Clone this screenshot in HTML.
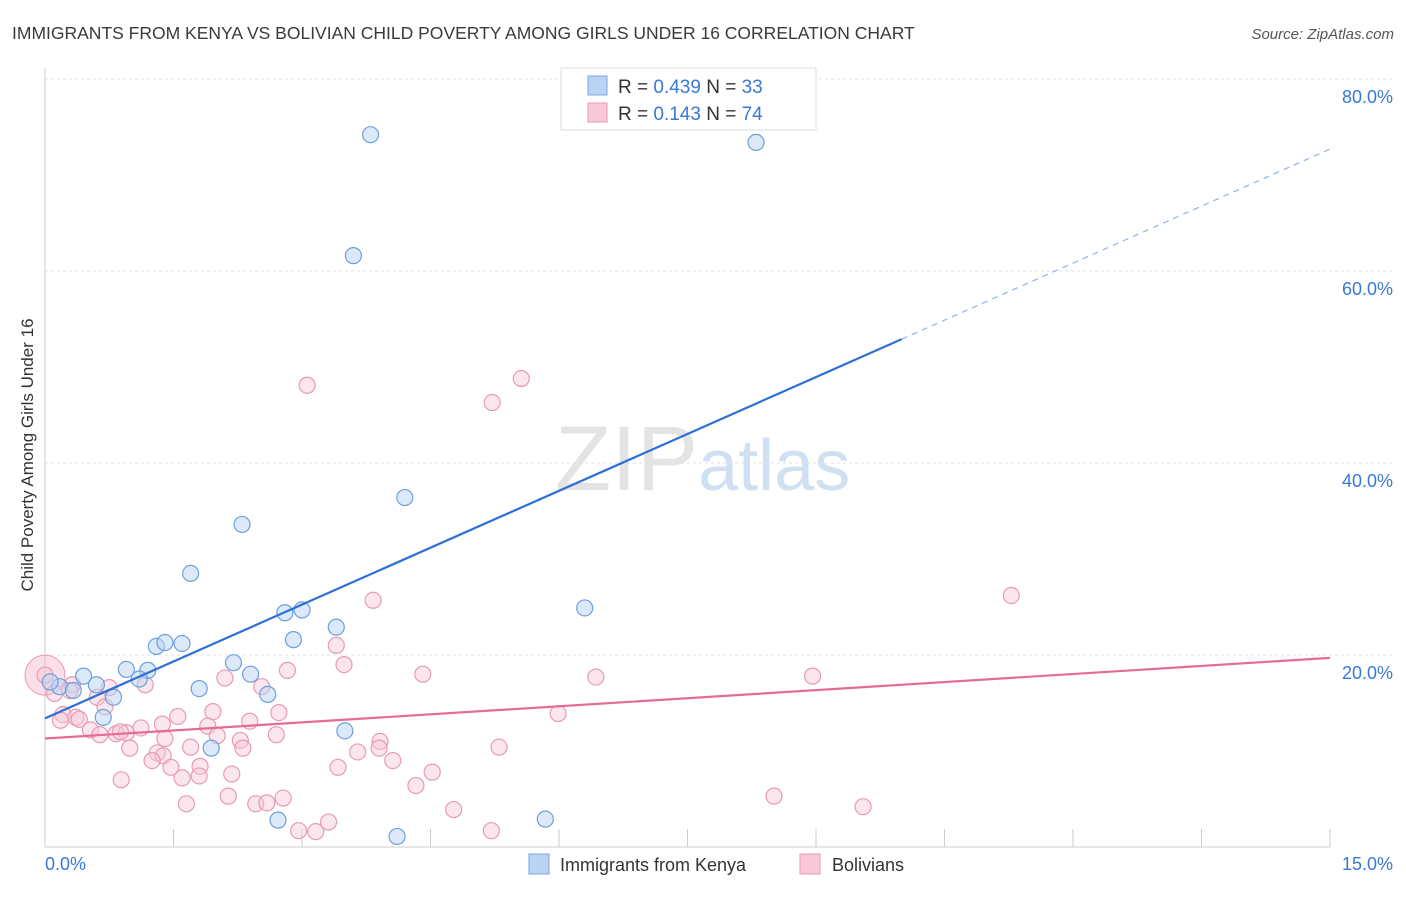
<!DOCTYPE html>
<html><head><meta charset="utf-8"><style>
body{margin:0;background:#fff;font-family:"Liberation Sans",sans-serif;}
svg text{font-family:"Liberation Sans",sans-serif;}
</style></head><body>
<svg id="chart" width="1406" height="892" xmlns="http://www.w3.org/2000/svg">
<text x="12" y="39" font-size="17.5" fill="#3a3a3a">IMMIGRANTS FROM KENYA VS BOLIVIAN CHILD POVERTY AMONG GIRLS UNDER 16 CORRELATION CHART</text>
<text x="1394" y="39" font-size="15" fill="#555" text-anchor="end" font-style="italic">Source: ZipAtlas.com</text>
<text x="555" y="490" font-size="92" fill="#e4e4e4" font-family="Liberation Serif">ZIP<tspan fill="#cfe0f2" font-family="Liberation Sans" font-size="72">atlas</tspan></text>
<text transform="translate(33,455) rotate(-90)" font-size="17" fill="#333" text-anchor="middle">Child Poverty Among Girls Under 16</text>
<g id="grid"></g><g id="marks"></g>
<g>
<rect x="561" y="68" width="255" height="62" fill="#fff" stroke="#ddd"/>
<rect x="588" y="76" width="19" height="19" fill="#b9d3f3" stroke="#7aa6dc"/>
<rect x="588" y="103" width="19" height="19" fill="#f8c8d8" stroke="#e89ab4"/>
<text x="618" y="93" font-size="19" fill="#333">R = <tspan fill="#3a78d8">0.439</tspan>   N = <tspan fill="#3a78d8">33</tspan></text>
<text x="618" y="120" font-size="19" fill="#333">R =  <tspan fill="#3a78d8">0.143</tspan>   N = <tspan fill="#3a78d8">74</tspan></text>
</g>
<g>
<rect x="529" y="854" width="20" height="20" fill="#b9d3f3" stroke="#7aa6dc"/>
<text x="560" y="871" font-size="18" fill="#333">Immigrants from Kenya</text>
<rect x="800" y="854" width="20" height="20" fill="#f8c8d8" stroke="#e89ab4"/>
<text x="832" y="871" font-size="18" fill="#333">Bolivians</text>
</g>
</svg>
<script>
const yTicks=[20,40,60,80];
const xTickLabels=["0.0%","15.0%"];
const blueX=[3.8,8.3,3.6,4.2,2.3,1.7,6.3,2.8,3.0,3.4,2.9,1.3,1.4,1.6,2.2,0.95,1.2,0.45,1.1,2.4,0.6,0.17,0.33,1.8,2.6,0.8,0.68,3.5,1.94,2.72,5.84,4.11,0.06];
const blueY=[74.2,73.4,61.6,36.4,33.6,28.5,24.9,24.4,24.7,22.9,21.6,20.9,21.3,21.2,19.2,18.5,18.4,17.8,17.5,18.0,16.9,16.7,16.3,16.5,15.9,15.6,13.5,12.1,10.3,2.8,2.9,1.1,17.2];
const pinkX=[3.06,5.56,5.22,11.28,3.83,3.4,3.49,2.83,4.41,6.43,8.96,1.17,0.75,0.32,0.61,2.53,2.1,0.11,0.21,0.36,0.4,0.18,0.53,0.64,0.83,0.95,1.12,1.37,1.55,1.96,2.39,2.73,5.99,1.9,2.01,0.99,1.31,1.38,1.25,1.7,2.28,2.31,2.7,3.91,3.9,3.65,4.06,5.3,1.47,1.81,2.18,4.52,3.42,0.89,1.6,1.8,4.33,2.14,2.46,2.59,2.78,8.51,9.55,1.65,4.77,2.96,3.16,3.31,5.21,0.0,0.29,0.7,1.4,0.88];
const pinkY=[48.1,48.8,46.3,26.2,25.7,21.0,19.0,18.4,18.0,17.7,17.8,16.9,16.6,16.9,15.6,16.7,17.6,16.0,13.8,13.5,13.3,13.2,12.2,11.7,11.8,11.9,12.4,12.8,13.6,14.1,13.1,14.0,13.9,12.6,11.6,10.3,9.8,9.5,9.0,10.4,11.1,10.3,11.7,11.0,10.3,9.9,9.0,10.4,8.3,8.4,7.6,7.8,8.3,7.0,7.2,7.4,6.4,5.3,4.5,4.6,5.1,5.3,4.2,4.5,3.9,1.7,1.6,2.6,1.7,17.9,16.3,14.6,11.3,12.0];
const blueLine=[[0,13.4],[10.0,52.9],[15.0,72.7]];
const pinkLine=[[0,11.3],[15.0,19.7]];
const X0=45,X1=1330,Y0=847,YS=9.6;
const sx=v=>X0+(X1-X0)*v/15, sy=v=>Y0-v*YS;
const NS="http://www.w3.org/2000/svg";
function mk(t,a,p){const e=document.createElementNS(NS,t);for(const k in a)e.setAttribute(k,a[k]);p.appendChild(e);return e;}
const g=document.getElementById('grid'),m=document.getElementById('marks');
yTicks.forEach(t=>{const l=mk('line',{x1:45,x2:1394,y1:sy(t),y2:sy(t),stroke:'#e0e0e0','stroke-dasharray':'3,3'},g);


const tx=mk('text',{x:1393,y:sy(t)+24,'font-size':18,fill:'#3a78d8','text-anchor':'end'},g);tx.textContent=t.toFixed(1)+'%';

});
const ax=mk('line',{x1:45,x2:1330,y1:Y0,y2:Y0,stroke:'#ccc'},g);


const ay=mk('line',{x1:45,x2:45,y1:68,y2:Y0,stroke:'#ccc'},g);


for(let i=1;i<=10;i++){const tk=mk('line',{x1:sx(i*1.5),x2:sx(i*1.5),y1:Y0,y2:Y0-18,stroke:'#ccc'},g);

}
[[0,'start',45],[1,'end',1393]].forEach(([i,a,x])=>{const t=mk('text',{x:x,y:870,'font-size':18,fill:'#3a78d8','text-anchor':a},g);t.textContent=xTickLabels[i];

});
mk('circle',{cx:sx(0),cy:sy(17.9),r:20,fill:'rgba(240,160,190,0.35)',stroke:'#e89ab4'},m);
pinkX.forEach((x,i)=>{const c=mk('circle',{cx:sx(x),cy:sy(pinkY[i]),r:8,fill:'rgba(248,200,216,0.45)',stroke:'#e89ab4','stroke-width':1.2},m);

});
blueX.forEach((x,i)=>{const c=mk('circle',{cx:sx(x),cy:sy(blueY[i]),r:8,fill:'rgba(185,211,243,0.5)',stroke:'#6f9fdc','stroke-width':1.2},m);

});
const bl=mk('line',{x1:sx(blueLine[0][0]),y1:sy(blueLine[0][1]),x2:sx(blueLine[1][0]),y2:sy(blueLine[1][1]),stroke:'#2c6fd6','stroke-width':2.2},m);


const bd=mk('line',{x1:sx(blueLine[1][0]),y1:sy(blueLine[1][1]),x2:sx(blueLine[2][0]),y2:sy(blueLine[2][1]),stroke:'#8fb3e6','stroke-width':1.2,'stroke-dasharray':'6,5'},m);


const pl=mk('line',{x1:sx(pinkLine[0][0]),y1:sy(pinkLine[0][1]),x2:sx(pinkLine[1][0]),y2:sy(pinkLine[1][1]),stroke:'#e46b97','stroke-width':2.2},m);


</script>
</body></html>
